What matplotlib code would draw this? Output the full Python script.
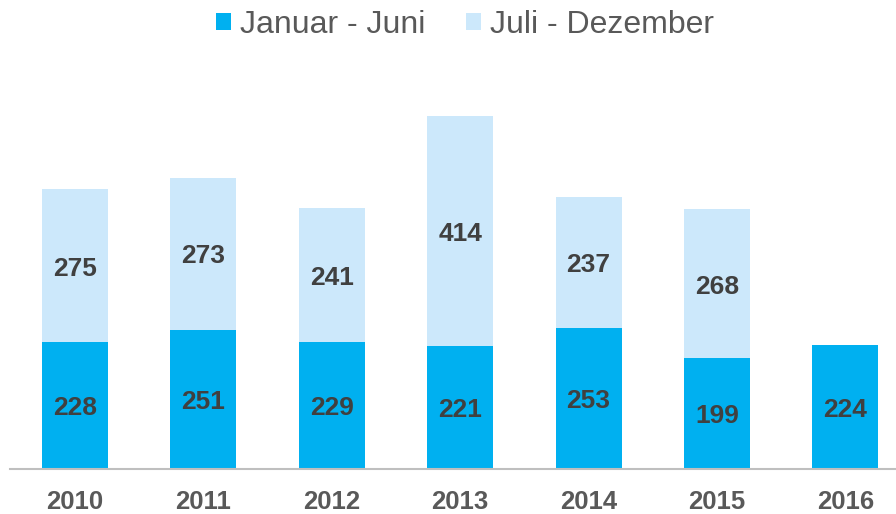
import matplotlib
matplotlib.use("Agg")
import matplotlib.pyplot as plt
from matplotlib.patches import Patch

years = ["2010", "2011", "2012", "2013", "2014", "2015", "2016"]
h1 = [228, 251, 229, 221, 253, 199, 224]
h2 = [275, 273, 241, 414, 237, 268, None]

c1 = "#00B0F0"
c2 = "#CCE8FB"
txt = "#404040"
lab = "#595959"

plt.rcParams['font.family'] = ['Liberation Sans', 'DejaVu Sans']

fig = plt.figure(figsize=(8.96, 5.14), dpi=100)
ax = fig.add_axes([10/896, 45/514, 886/896, (469-80)/514])

x = list(range(len(years)))
w = 0.514
ax.bar(x, h1, width=w, color=c1, edgecolor="none", zorder=2)
x2 = [i for i, v in zip(x, h2) if v is not None]
b2 = [h1[i] for i in x2]
v2 = [h2[i] for i in x2]
ax.bar(x2, v2, bottom=b2, width=w, color=c2, edgecolor="none", zorder=2)

for i, v in zip(x, h1):
    ax.text(i, v/2 - 5, str(v), ha="center", va="center", fontsize=19,
            fontweight="bold", color=txt)
for i, b, v in zip(x2, b2, v2):
    ax.text(i, b + v/2 - 5, str(v), ha="center", va="center", fontsize=19,
            fontweight="bold", color=txt)

ax.set_xlim(-65/128.4, (896-75)/128.4)
ax.set_ylim(0, 700)
ax.set_yticks([])
ax.set_xticks(x)
ax.set_xticklabels(years, fontsize=18.5, fontweight="bold", color=lab)
ax.tick_params(axis="x", length=0, pad=15)
for s in ["top", "right", "left"]:
    ax.spines[s].set_visible(False)
ax.spines["bottom"].set_color("#BFBFBF")
ax.spines["bottom"].set_linewidth(1.5)

handles = [Patch(facecolor=c1, edgecolor="none", label="Januar - Juni"),
           Patch(facecolor=c2, edgecolor="none", label="Juli - Dezember")]
leg = fig.legend(handles=handles, loc="center", bbox_to_anchor=(465/896, 1 - 25/514),
                 ncol=2, frameon=False, fontsize=23, handlelength=0.47,
                 handleheight=0.47, handletextpad=0.28, columnspacing=1.25,
                 borderpad=0, borderaxespad=0)
for t in leg.get_texts():
    t.set_color(lab)

fig.savefig("out.png", dpi=100)
